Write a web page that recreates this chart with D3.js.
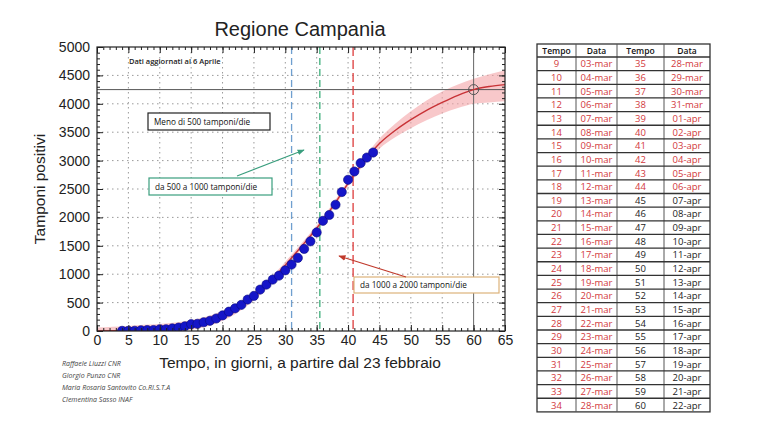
<!DOCTYPE html>
<html>
<head>
<meta charset="utf-8">
<script src="https://cdn.jsdelivr.net/npm/d3@7"></script>
<style>
  body { margin: 0; background: #fff; }
  svg { display: block; font-family: "Liberation Sans", Arial, sans-serif; }
</style>
</head>
<body>
<div id="chart"></div>
<script>
// Observed data: day (from 23 Feb) and cumulative positive swabs
const days = [4, 5, 6, 7, 8, 9, 10, 11, 12, 13, 14, 15, 16, 17, 18, 19, 20, 21, 22, 23, 24,
  25, 26, 27, 28, 29, 30, 31, 32, 33, 34, 35, 36, 37, 38, 39, 40, 41, 42, 43, 44];
const positives = [3, 3, 4, 13, 17, 17, 31, 31, 45, 60, 83, 120, 127, 154, 180, 220, 275, 340, 400, 460, 554,
  618, 729, 817, 905, 975, 1069, 1169, 1287, 1445, 1578, 1736, 1940, 2042, 2223, 2446, 2662, 2808, 2956, 3054, 3142];

// Fitted curve and its confidence band
const fitDays = [0, 2.5, 5, 7.5, 10, 12.5, 15, 17.5, 20, 22.5, 25, 27.5, 30, 32.5, 35, 37.5, 40, 42.5,
  45, 47.5, 50, 52.5, 55, 57.5, 60, 62.5, 65];
const fitValues = [2, 5, 10, 20, 35, 60, 100, 165, 265, 410, 610, 860, 1160, 1480, 1810, 2180, 2600, 2980,
  3300, 3530, 3720, 3885, 4025, 4150, 4250, 4305, 4338];
const bandUpper = [60, 75, 90, 110, 125, 150, 190, 255, 350, 490, 680, 920, 1220, 1530, 1860, 2230, 2650, 3040,
  3390, 3650, 3870, 4060, 4215, 4340, 4440, 4520, 4590];
const bandLower = [0, 0, 0, 0, 0, 0, 20, 80, 180, 330, 540, 800, 1100, 1430, 1760, 2130, 2550, 2920,
  3210, 3410, 3570, 3710, 3830, 3925, 4000, 4025, 4045];

// Reference lines
const plateauValue = 4250;
const plateauDay = 60;
const phaseDays = [31, 35.5, 40.8];
const phaseColours = ["#6f9fcf", "#3dae7a", "#dd3b3b"];

// Axis ticks
const xTicks = [0, 5, 10, 15, 20, 25, 30, 35, 40, 45, 50, 55, 60, 65];
const yTicks = [0, 500, 1000, 1500, 2000, 2500, 3000, 3500, 4000, 4500, 5000];

// Table content
const tempoLeft = [9, 10, 11, 12, 13, 14, 15, 16, 17, 18, 19, 20, 21, 22, 23, 24, 25, 26, 27, 28, 29, 30, 31, 32, 33, 34];
const dataLeft = ["03-mar", "04-mar", "05-mar", "06-mar", "07-mar", "08-mar", "09-mar", "10-mar", "11-mar", "12-mar",
  "13-mar", "14-mar", "15-mar", "16-mar", "17-mar", "18-mar", "19-mar", "20-mar", "21-mar", "22-mar", "23-mar",
  "24-mar", "25-mar", "26-mar", "27-mar", "28-mar"];
const tempoRight = [35, 36, 37, 38, 39, 40, 41, 42, 43, 44, 45, 46, 47, 48, 49, 50, 51, 52, 53, 54, 55, 56, 57, 58, 59, 60];
const dataRight = ["28-mar", "29-mar", "30-mar", "31-mar", "01-apr", "02-apr", "03-apr", "04-apr", "05-apr", "06-apr",
  "07-apr", "08-apr", "09-apr", "10-apr", "11-apr", "12-apr", "13-apr", "14-apr", "15-apr", "16-apr", "17-apr",
  "18-apr", "19-apr", "20-apr", "21-apr", "22-apr"];

const credits = ["Raffaele Liuzzi CNR", "Giorgio Punzo CNR", "Maria Rosaria Santovito Co.RI.S.T.A", "Clementina Sasso INAF"];

// Sizes
const width = 767;
const height = 431;
const plot = { left: 97, right: 505, top: 47, bottom: 331 };

const svg = d3.select("#chart").append("svg")
  .attr("width", width)
  .attr("height", height);

const x = d3.scaleLinear().domain([0, 65]).range([plot.left, plot.right]);
const y = d3.scaleLinear().domain([0, 5000]).range([plot.bottom, plot.top]);

svg.append("defs").append("clipPath").attr("id", "plot-clip")
  .append("rect")
  .attr("x", plot.left).attr("y", plot.top)
  .attr("width", plot.right - plot.left).attr("height", plot.bottom - plot.top);

// Title
svg.append("text")
  .attr("x", 300).attr("y", 36)
  .attr("text-anchor", "middle")
  .attr("font-size", 20)
  .attr("fill", "#222")
  .text("Regione Campania");

// Dotted grid
const grid = svg.append("g").attr("stroke", "#9a9a9a").attr("stroke-dasharray", "1.5,3.5");
grid.selectAll("line.gx")
  .data(xTicks.filter((d) => d > 0 && d < 65 && d !== plateauDay))
  .join("line")
  .attr("x1", (d) => x(d)).attr("x2", (d) => x(d))
  .attr("y1", plot.top).attr("y2", plot.bottom);
grid.selectAll("line.gy")
  .data(yTicks.filter((d) => d > 0 && d < 5000))
  .join("line")
  .attr("y1", (d) => y(d)).attr("y2", (d) => y(d))
  .attr("x1", plot.left).attr("x2", plot.right);

const inner = svg.append("g").attr("clip-path", "url(#plot-clip)");

// Confidence band
const fitRows = fitDays.map((d, i) => ({ day: d, fit: fitValues[i], hi: bandUpper[i], lo: bandLower[i] }));
inner.append("path")
  .datum(fitRows)
  .attr("fill", "#f4a3a6")
  .attr("fill-opacity", 0.6)
  .attr("d", d3.area()
    .x((d) => x(d.day))
    .y0((d) => y(d.lo))
    .y1((d) => y(d.hi))
    .curve(d3.curveMonotoneX));

// Plateau reference lines
inner.append("line")
  .attr("x1", plot.left).attr("x2", plot.right)
  .attr("y1", y(plateauValue)).attr("y2", y(plateauValue))
  .attr("stroke", "#555").attr("stroke-width", 1);
inner.append("line")
  .attr("x1", x(plateauDay)).attr("x2", x(plateauDay))
  .attr("y1", plot.top).attr("y2", plot.bottom)
  .attr("stroke", "#666").attr("stroke-width", 1);

// Phase lines (swab capacity)
inner.selectAll("line.phase")
  .data(phaseDays)
  .join("line")
  .attr("x1", (d) => x(d)).attr("x2", (d) => x(d))
  .attr("y1", plot.top).attr("y2", plot.bottom)
  .attr("stroke", (d, i) => phaseColours[i])
  .attr("stroke-width", 1.3)
  .attr("stroke-dasharray", (d, i) => (i === 2 ? "9,4" : "7,4"));

// Fit line
inner.append("path")
  .datum(fitRows)
  .attr("fill", "none")
  .attr("stroke", "#c83236")
  .attr("stroke-width", 1.4)
  .attr("d", d3.line()
    .x((d) => x(d.day))
    .y((d) => y(d.fit))
    .curve(d3.curveMonotoneX));

// Observed points
inner.selectAll("circle.obs")
  .data(days.map((d, i) => ({ day: d, value: positives[i] })))
  .join("circle")
  .attr("cx", (d) => x(d.day))
  .attr("cy", (d) => y(d.value))
  .attr("r", 4.6)
  .attr("fill", "#1515c8")
  .attr("stroke", "#0a0a80")
  .attr("stroke-width", 0.6);

// Plateau marker
svg.append("circle")
  .attr("cx", x(plateauDay)).attr("cy", y(plateauValue))
  .attr("r", 5)
  .attr("fill", "none")
  .attr("stroke", "#555")
  .attr("stroke-width", 1);

// Axes: major and minor ticks on all sides
const minorX = d3.range(0, 66, 1);
const minorY = d3.range(0, 5001, 100);
const axisStyle = (g) => {
  g.select(".domain").remove();
  g.selectAll("line").attr("stroke", "#222");
  g.selectAll("text").attr("font-size", 14).attr("fill", "#222").attr("font-family", "Liberation Sans, Arial, sans-serif");
};

svg.append("g").attr("transform", `translate(0,${plot.bottom})`)
  .call(d3.axisBottom(x).tickValues(minorX).tickSize(-3).tickFormat("")).call(axisStyle);
svg.append("g").attr("transform", `translate(0,${plot.bottom})`)
  .call(d3.axisBottom(x).tickValues(xTicks).tickSize(-6).tickPadding(4).tickFormat(d3.format("d"))).call(axisStyle);
svg.append("g").attr("transform", `translate(0,${plot.top})`)
  .call(d3.axisTop(x).tickValues(minorX).tickSize(-3).tickFormat("")).call(axisStyle);
svg.append("g").attr("transform", `translate(0,${plot.top})`)
  .call(d3.axisTop(x).tickValues(xTicks).tickSize(-6).tickFormat("")).call(axisStyle);

svg.append("g").attr("transform", `translate(${plot.left},0)`)
  .call(d3.axisLeft(y).tickValues(minorY).tickSize(-3).tickFormat("")).call(axisStyle);
svg.append("g").attr("transform", `translate(${plot.left},0)`)
  .call(d3.axisLeft(y).tickValues(yTicks).tickSize(-6).tickPadding(7).tickFormat(d3.format("d"))).call(axisStyle);
svg.append("g").attr("transform", `translate(${plot.right},0)`)
  .call(d3.axisRight(y).tickValues(minorY).tickSize(-3).tickFormat("")).call(axisStyle);
svg.append("g").attr("transform", `translate(${plot.right},0)`)
  .call(d3.axisRight(y).tickValues(yTicks).tickSize(-6).tickFormat("")).call(axisStyle);

// Frame
svg.append("rect")
  .attr("x", plot.left).attr("y", plot.top)
  .attr("width", plot.right - plot.left).attr("height", plot.bottom - plot.top)
  .attr("fill", "none").attr("stroke", "#222").attr("stroke-width", 1.2);

// Axis titles
svg.append("text")
  .attr("x", 300).attr("y", 368)
  .attr("text-anchor", "middle")
  .attr("font-size", 15.5)
  .attr("fill", "#222")
  .text("Tempo, in giorni, a partire dal 23 febbraio");
svg.append("text")
  .attr("transform", `translate(45,${(plot.top + plot.bottom) / 2}) rotate(-90)`)
  .attr("text-anchor", "middle")
  .attr("font-size", 15.5)
  .attr("fill", "#222")
  .text("Tamponi positivi");

// Annotations
const noteFont = "Open Sans, sans-serif";
svg.append("text")
  .attr("x", 129).attr("y", 64)
  .attr("font-family", noteFont).attr("font-size", 7.5).attr("font-weight", 600)
  .attr("fill", "#222")
  .text("Dati aggiornati al 6 Aprile");

const boxes = [
  { text: "Meno di 500 tamponi/die", x: 148, y: 113, w: 122, h: 17, stroke: "#222" },
  { text: "da 500 a 1000 tamponi/die", x: 149, y: 178, w: 123, h: 17, stroke: "#3a9e7e" },
  { text: "da 1000 a 2000 tamponi/die", x: 354, y: 277, w: 145, h: 16, stroke: "#dcb27a" }
];
svg.selectAll("g.note")
  .data(boxes)
  .join("g")
  .each(function (d) {
    const g = d3.select(this);
    g.append("rect")
      .attr("x", d.x).attr("y", d.y).attr("width", d.w).attr("height", d.h)
      .attr("fill", "#fff").attr("stroke", d.stroke).attr("stroke-width", 1.2);
    g.append("text")
      .attr("x", d.x + 6).attr("y", d.y + d.h / 2 + 3)
      .attr("font-family", noteFont).attr("font-size", 8.2)
      .attr("fill", "#111")
      .text(d.text);
  });

// Arrows
const defs = svg.select("defs");
[["arrow-green", "#3a9e7e"], ["arrow-red", "#c0392b"]].forEach(([id, c]) => {
  defs.append("marker")
    .attr("id", id)
    .attr("viewBox", "0 0 10 10")
    .attr("refX", 9).attr("refY", 5)
    .attr("markerWidth", 6).attr("markerHeight", 6)
    .attr("orient", "auto")
    .append("path").attr("d", "M0,1L10,5L0,9Z").attr("fill", c);
});
svg.append("line")
  .attr("x1", 237).attr("y1", 176).attr("x2", 304).attr("y2", 150)
  .attr("stroke", "#3a9e7e").attr("stroke-width", 1.2)
  .attr("marker-end", "url(#arrow-green)");
svg.append("line")
  .attr("x1", 406).attr("y1", 277).attr("x2", 339).attr("y2", 256)
  .attr("stroke", "#c0392b").attr("stroke-width", 1.2)
  .attr("marker-end", "url(#arrow-red)");

// Credits
svg.selectAll("text.credit")
  .data(credits)
  .join("text")
  .attr("x", 62)
  .attr("y", (d, i) => 366 + i * 12)
  .attr("font-family", noteFont).attr("font-size", 7)
  .attr("font-style", "italic")
  .attr("fill", "#444")
  .text((d) => d);

// Table
const table = { left: 537, top: 44, headH: 13, rowH: 13.65 };
const colEdges = [537, 576, 617, 664, 710];
const lastObserved = d3.max(days);
const rows = tempoLeft.map((t, i) => [t, dataLeft[i], tempoRight[i], dataRight[i]]);
const tableBottom = table.top + table.headH + rows.length * table.rowH;
const tg = svg.append("g").attr("font-family", noteFont);

tg.append("rect")
  .attr("x", colEdges[0]).attr("y", table.top)
  .attr("width", colEdges[4] - colEdges[0]).attr("height", tableBottom - table.top)
  .attr("fill", "#fff").attr("stroke", "#333").attr("stroke-width", 1.3);

tg.selectAll("line.col")
  .data(colEdges.slice(1, 4))
  .join("line")
  .attr("x1", (d) => d).attr("x2", (d) => d)
  .attr("y1", table.top).attr("y2", tableBottom)
  .attr("stroke", "#555").attr("stroke-width", 1);

tg.selectAll("line.row")
  .data(d3.range(rows.length))
  .join("line")
  .attr("x1", colEdges[0]).attr("x2", colEdges[4])
  .attr("y1", (i) => table.top + table.headH + i * table.rowH)
  .attr("y2", (i) => table.top + table.headH + i * table.rowH)
  .attr("stroke", "#333").attr("stroke-width", 1.3);

const colMid = (c) => (colEdges[c] + colEdges[c + 1]) / 2;
tg.selectAll("text.head")
  .data(["Tempo", "Data", "Tempo", "Data"])
  .join("text")
  .attr("x", (d, i) => colMid(i))
  .attr("y", table.top + 9.8)
  .attr("text-anchor", "middle")
  .attr("font-size", 8.5).attr("font-weight", 600)
  .attr("fill", "#111")
  .text((d) => d);

rows.forEach((r, i) => {
  tg.selectAll(null)
    .data(r)
    .join("text")
    .attr("x", (d, c) => colMid(c))
    .attr("y", table.top + table.headH + i * table.rowH + 10.3)
    .attr("text-anchor", "middle")
    .attr("font-size", 9.5)
    .attr("fill", (d, c) => (c < 2 || r[2] <= lastObserved ? "#d2383c" : "#222"))
    .text((d) => d);
});
</script>
</body>
</html>
